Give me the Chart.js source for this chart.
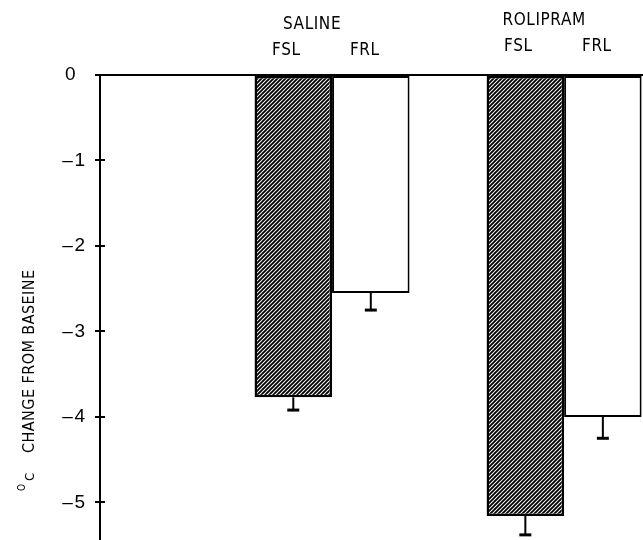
<!DOCTYPE html>
<html>
<head>
<meta charset="utf-8">
<script src="https://cdn.jsdelivr.net/npm/chart.js@4"></script>
<style>
  html, body { margin: 0; padding: 0; background: #fff; overflow: hidden; }
  canvas { display: block; }
</style>
</head>
<body>
<canvas id="c" width="643" height="540"></canvas>
<script>
// Treatment groups and the two rat lines within each group
const groups = ['SALINE', 'ROLIPRAM'];
const lines = ['FSL', 'FRL'];

// Mean temperature change (°C) and standard error per group
const fslMean = [-3.77, -5.16];
const fslSE = [0.15, 0.22];
const frlMean = [-2.55, -4.00];
const frlSE = [0.20, 0.25];

// Y axis tick values
const yTicks = [0, -1, -2, -3, -4, -5];

const canvas = document.getElementById('c');
const ctx = canvas.getContext('2d');

const plotterFont = '"Liberation Sans Narrow", "DejaVu Sans Condensed", "Arial Narrow", sans-serif';

// Diagonal "////" hatch used for the FSL bars
function hatchPattern() {
  const s = 4;
  const tile = document.createElement('canvas');
  tile.width = tile.height = s;
  const g = tile.getContext('2d');
  g.fillStyle = '#fff';
  g.fillRect(0, 0, s, s);
  g.strokeStyle = '#000';
  g.lineWidth = 1.9;
  g.beginPath();
  g.moveTo(0, s); g.lineTo(s, 0);
  g.moveTo(-1, 1); g.lineTo(1, -1);
  g.moveTo(s - 1, s + 1); g.lineTo(s + 1, s - 1);
  g.stroke();
  return ctx.createPattern(tile, 'repeat');
}

function toPoints(values) {
  return groups.map((g, i) => ({ x: i + 1, y: values[i] }));
}

// Error bars (downward only) and inner halves of the y tick crosses
const errorBars = {
  id: 'errorBars',
  afterDatasetsDraw(chart) {
    const c = chart.ctx;
    const y = chart.scales.y;
    c.save();
    c.strokeStyle = '#000';
    chart.data.datasets.forEach((ds, di) => {
      const meta = chart.getDatasetMeta(di);
      meta.data.forEach((bar, i) => {
        const v = ds.data[i].y;
        const e = ds.se[i];
        const y0 = y.getPixelForValue(v);
        const y1 = y.getPixelForValue(v - e);
        c.lineWidth = 2;
        c.beginPath();
        c.moveTo(bar.x, y0);
        c.lineTo(bar.x, y1);
        c.stroke();
        c.lineWidth = 3;
        c.beginPath();
        c.moveTo(bar.x - 6, y1);
        c.lineTo(bar.x + 6, y1);
        c.stroke();
      });
    });
    const left = chart.chartArea.left;
    c.lineWidth = 2;
    y.ticks.forEach(t => {
      if (t.value === 0) return;
      const py = Math.round(y.getPixelForValue(t.value));
      c.beginPath();
      c.moveTo(left, py);
      c.lineTo(left + 5, py);
      c.stroke();
    });
    c.restore();
  }
};

// Group names, line names above the bars and the rotated y title
const labels = {
  id: 'labels',
  afterDraw(chart) {
    const c = chart.ctx;
    c.save();
    c.fillStyle = '#000';
    c.textAlign = 'center';
    c.textBaseline = 'alphabetic';
    c.font = '17px ' + plotterFont;
    c.letterSpacing = '0.6px';
    const lift = [0, 4];
    const metas = chart.data.datasets.map((ds, di) => chart.getDatasetMeta(di));
    groups.forEach((g, i) => {
      const a = metas[0].data[i];
      const b = metas[1].data[i];
      const mid = (a.x + b.x) / 2;
      c.fillText(g, mid - 20, 29 - lift[i]);
      c.fillText(lines[0], a.x - 7, 55 - lift[i]);
      c.fillText(lines[1], b.x - 6, 55 - lift[i]);
    });

    // y title, reading bottom to top
    c.translate(34, 491);
    c.rotate(-Math.PI / 2);
    c.textAlign = 'left';
    c.letterSpacing = '0px';
    c.font = '10px ' + plotterFont;
    c.fillText('O', 0, -9);
    c.font = '13px ' + plotterFont;
    c.fillText('C', 10, 0);
    const title = 'CHANGE FROM BASEINE';
    c.font = '16px ' + plotterFont;
    const w0 = c.measureText(title).width;
    const span = 183;
    const ls = Math.max(0, (span - w0) / (title.length - 1));
    c.letterSpacing = ls.toFixed(2) + 'px';
    c.fillText(title, 38, 0);
    c.restore();
  }
};

new Chart(ctx, {
  type: 'bar',
  data: {
    datasets: [
      {
        label: lines[0],
        data: toPoints(fslMean),
        se: fslSE,
        backgroundColor: hatchPattern(),
        borderColor: '#000',
        borderWidth: 2.5,
        borderSkipped: false
      },
      {
        label: lines[1],
        data: toPoints(frlMean),
        se: frlSE,
        backgroundColor: '#fff',
        borderColor: '#000',
        borderWidth: 2,
        borderSkipped: false
      }
    ]
  },
  options: {
    responsive: false,
    animation: false,
    devicePixelRatio: 1,
    layout: { padding: { top: 75, left: 0, right: 0, bottom: 0 } },
    datasets: { bar: { categoryPercentage: 0.668, barPercentage: 1 } },
    plugins: { legend: { display: false }, tooltip: { enabled: false } },
    scales: {
      x: {
        type: 'linear',
        min: 0,
        max: 2.34,
        offset: false,
        display: false,
        afterBuildTicks: s => { s.ticks = groups.map((g, i) => ({ value: i + 1 })); }
      },
      y: {
        min: -5.44,
        max: 0,
        afterBuildTicks: s => { s.ticks = yTicks.map(v => ({ value: v })); },
        afterFit: s => { s.width = 100; s.paddingTop = 0; s.paddingBottom = 0; },
        border: { display: true, color: '#000', width: 2 },
        grid: {
          drawOnChartArea: true,
          color: c => (c.tick && c.tick.value === 0 ? '#000' : 'rgba(0,0,0,0)'),
          lineWidth: 2,
          tickColor: '#000',
          tickLength: 5,
          tickWidth: 2
        },
        ticks: {
          color: '#000',
          padding: 10,
          font: { family: '"Liberation Sans", Arial, sans-serif', size: 19 },
          callback: v => (v === 0 ? '0\u2002' : '\u2013\u200A' + Math.abs(v))
        }
      }
    }
  },
  plugins: [errorBars, labels]
});
</script>
</body>
</html>
